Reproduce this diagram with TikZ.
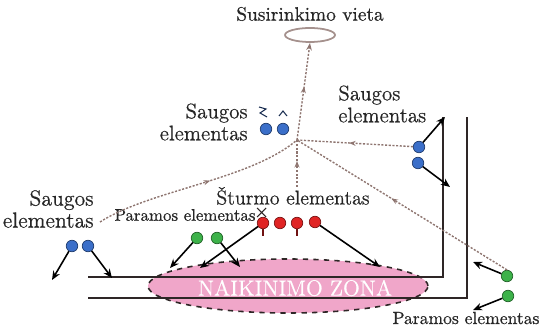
\documentclass[tikz,border=0pt]{standalone}
\usepackage{fontspec}
\setmainfont{Latin Modern Roman}[FakeBold=0.6]
\usepackage{tikz}
\usetikzlibrary{shapes.geometric, arrows.meta, positioning, decorations.markings, calc}
\definecolor{dot-blue}{HTML}{3B6FC9}
\definecolor{dot-green}{HTML}{3DB24A}
\definecolor{dot-red}{HTML}{E02424}
\definecolor{zone-pink}{HTML}{F0A6C9}
\definecolor{route-brown}{HTML}{8E7570}
\definecolor{road}{HTML}{2E2626}
\newcommand{\lblsize}[1]{\fontsize{#1}{12.5}\selectfont}
\tikzset{
  unit/.style={circle, draw=#1!55!black, fill=#1, line width=0.4pt,
    inner sep=0pt, minimum size=0.23cm},
  mv/.style={-{Stealth[length=1.8mm,width=1.5mm]}, line width=0.9pt, black},
  retreat/.style={draw=route-brown, line width=0.8pt,
    dash pattern=on 1.2pt off 0.9pt, postaction={decorate},
    decoration={markings, mark=at position 0.55 with
      {\arrow{Stealth[length=1.3mm,width=1mm]}}}},
  lbl/.style={inner sep=0pt, text=black!85, font=\lblsize{12}},
}

\begin{document}
\begin{tikzpicture}[x=0.02cm, y=-0.02cm]
  \useasboundingbox (0,0) rectangle (543,330);
  % Meeting point
  \node[lbl, font=\lblsize{11}] (title) at (310,14) {Susirinkimo vieta};
  \node[ellipse, draw=route-brown!80, line width=1pt, inner sep=0pt,
        minimum width=1cm, minimum height=0.28cm] (meet) at (310,35) {};
  % Destruction zone and roads
  \node[ellipse, fill=zone-pink, draw=road, dashed, line width=0.9pt,
        minimum width=5.6cm, minimum height=1.08cm] (zone) at (288,286) {};
  \draw[road, line width=0.8pt] (88,277) -- (443,277) -- (443,117);
  \draw[road, line width=0.8pt] (88,298) -- (467,298) -- (467,117);
  \node[text=white, font=\lblsize{12.5}] (zonetxt) at (295,288) {NAIKINIMO ZONA};
  % Labels
  \node[lbl, font=\lblsize{12.4}, align=right, anchor=east] (saugosL) at (94,209) {Saugos\\elementas};
  \node[lbl, align=right, anchor=east] (saugosM) at (248,122) {Saugos\\elementas};
  \node[lbl, align=left, anchor=west] (saugosR) at (338,104) {Saugos\\elementas};
  \node[lbl, font=\lblsize{11.4}] (sturmo) at (293,196) {Šturmo elementas};
  \node[lbl, font=\lblsize{9.6}] (paramosM) at (185,215) {Paramos elementas};
  \node[lbl, font=\lblsize{10}] (paramosR) at (466,318) {Paramos elementas};
  % Units
  \node[unit=dot-blue] (lb1) at (72,246) {};
  \node[unit=dot-blue] (lb2) at (88,246) {};
  \node[unit=dot-blue] (mb1) at (266,129) {};
  \node[unit=dot-blue] (mb2) at (283,129) {};
  \node[unit=dot-blue] (rb1) at (419,147) {};
  \node[unit=dot-blue] (rb2) at (418,163) {};
  \node[unit=dot-green] (lg1) at (197,238) {};
  \node[unit=dot-green] (lg2) at (217,238) {};
  \node[unit=dot-green] (rg1) at (507,276) {};
  \node[unit=dot-green] (rg2) at (508,296) {};
  \node[unit=dot-red] (r1) at (263,223) {};
  \node[unit=dot-red] (r2) at (280,223) {};
  \node[unit=dot-red] (r3) at (297,223) {};
  \node[unit=dot-red] (r4) at (315,222) {};
  % small marks
  \draw[dot-blue!40!black, line width=0.6pt] (259,107) -- (266,109) -- (260,113) -- (267,117);
  \draw[dot-blue!40!black, line width=0.6pt] (279,116) -- (283,111) -- (287,116);
  \draw[dot-red!50!black, line width=0.6pt] (r1.south) -- ++(0,7) (r3.south) -- ++(0,7);
  \draw[road, line width=0.6pt] (257,208) -- (266,217) (266,208) -- (257,217);
  % Movements
  \coordinate (lb1t) at (52,280);  \coordinate (lb2t) at (112,278);
  \coordinate (lg1t) at (170,268); \coordinate (lg2t) at (240,267);
  \coordinate (r1t) at (200,268);  \coordinate (r4t) at (380,267);
  \coordinate (rb1t) at (445,117); \coordinate (rb2t) at (450,187);
  \coordinate (rg1t) at (473,262); \coordinate (rg2t) at (473,310);
  \draw[mv] (lb1) -- (lb1t);
  \draw[mv] (lb2) -- (lb2t);
  \draw[mv] (lg1) -- (lg1t);
  \draw[mv] (lg2) -- (lg2t);
  \draw[mv] (r1) -- (r1t);
  \draw[mv] (r4) -- (r4t);
  \draw[mv] (rb1) -- (rb1t);
  \draw[mv] (rb2) -- (rb2t);
  \draw[mv] (rg1) -- (rg1t);
  \draw[mv] (rg2) -- (rg2t);
  % Withdrawal routes
  \coordinate (hub) at (297,140);
  \coordinate (endL) at (100,222);
  \draw[retreat, -{Stealth[length=1.5mm]}] (hub) -- (meet.south);
  \draw[retreat] (endL) .. controls (150,190) and (250,180) .. (hub);
  \draw[retreat] (hub |- sturmo.north) -- (hub);
  \draw[retreat] (rb1) -- (hub);
  \draw[retreat] (rg1.north) -- (hub);
\end{tikzpicture}
\end{document}
